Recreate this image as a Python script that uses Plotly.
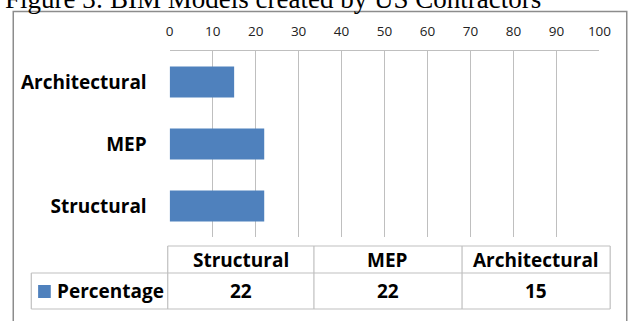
import plotly.graph_objects as go

# Data
categories = ["Structural", "MEP", "Architectural"]
percentage = [22, 22, 15]
series_name = "Percentage"
x_ticks = [0, 10, 20, 30, 40, 50, 60, 70, 80, 90, 100]
title_text = "Figure 3: BIM Models created by US Contractors"

W, H = 629, 321
BLUE = "#4F81BD"
GRID = "#bfbfbf"
FONT = "Open Sans"


def px(x):
    return x / W


def py(y):
    return 1 - y / H


# plot area in pixels
PL, PR, PT, PB = 170, 611, 51, 237

fig = go.Figure()
fig.add_trace(go.Bar(
    y=categories, x=percentage, orientation="h",
    marker=dict(color=BLUE, line=dict(width=0)),
    width=0.5, name=series_name, showlegend=False,
))

shapes = []
annotations = []

# outer chart border
shapes.append(dict(type="rect", xref="paper", yref="paper",
                   x0=px(9.5), x1=px(W + 10), y0=py(H + 10), y1=py(11.5),
                   line=dict(color="#8c8c8c", width=1.5), fillcolor="rgba(0,0,0,0)",
                   layer="below"))

# caption above the chart frame
annotations.append(dict(xref="paper", yref="paper", x=px(-1), y=py(16),
                        xanchor="left", yanchor="bottom", showarrow=False,
                        text=title_text,
                        font=dict(family="Liberation Serif", size=27, color="black")))

# data table below the plot
col_edges = [168, 318, 470, 622]
row_top, row_mid, row_bot = 246, 273, 309
legend_left = 28
line_style = dict(color=GRID, width=1.2)


def hline(x0, x1, y):
    shapes.append(dict(type="line", xref="paper", yref="paper",
                       x0=px(x0), x1=px(x1), y0=py(y), y1=py(y), line=line_style))


def vline(x, y0, y1):
    shapes.append(dict(type="line", xref="paper", yref="paper",
                       x0=px(x), x1=px(x), y0=py(y0), y1=py(y1), line=line_style))


hline(col_edges[0], col_edges[-1], row_top)
hline(legend_left, col_edges[-1], row_mid)
hline(legend_left, col_edges[-1], row_bot)
vline(legend_left, row_mid, row_bot)
for e in col_edges:
    vline(e, row_top, row_bot)

cell_font = dict(family=FONT, size=19, color="black", weight=700)
for i, (cat, val) in enumerate(zip(categories, percentage)):
    cx = (col_edges[i] + col_edges[i + 1]) / 2
    annotations.append(dict(xref="paper", yref="paper", x=px(cx), y=py((row_top + row_mid) / 2),
                            xanchor="center", yanchor="middle", showarrow=False,
                            text=cat, font=cell_font))
    annotations.append(dict(xref="paper", yref="paper", x=px(cx), y=py((row_mid + row_bot) / 2),
                            xanchor="center", yanchor="middle", showarrow=False,
                            text=str(val), font=cell_font))

# legend key and series name
shapes.append(dict(type="rect", xref="paper", yref="paper",
                   x0=px(35), x1=px(48), y0=py(298), y1=py(285),
                   fillcolor=BLUE, line=dict(width=0)))
annotations.append(dict(xref="paper", yref="paper", x=px(52), y=py((row_mid + row_bot) / 2),
                        xanchor="left", yanchor="middle", showarrow=False,
                        text=series_name, font=cell_font))

fig.update_layout(
    width=W, height=H,
    margin=dict(l=0, r=0, t=0, b=0),
    paper_bgcolor="white", plot_bgcolor="white",
    bargap=0.5,
    shapes=shapes, annotations=annotations,
    xaxis=dict(domain=[px(PL), px(PR)], range=[0, 100], side="top",
               tickvals=x_ticks, ticks="", ticklabelstandoff=8,
               showgrid=True, gridcolor=GRID, gridwidth=1.3,
               showline=True, linecolor=GRID, linewidth=1.3,
               zeroline=False,
               tickfont=dict(family=FONT, size=13.5, color="#222222")),
    yaxis=dict(domain=[py(PB), py(PT)], type="category",
               categoryorder="array", categoryarray=categories,
               ticks="", ticklabelstandoff=22,
               showgrid=False, showline=False, zeroline=False,
               tickfont=dict(family=FONT, size=19, color="black", weight=700)),
)

fig.write_html("out.html")
